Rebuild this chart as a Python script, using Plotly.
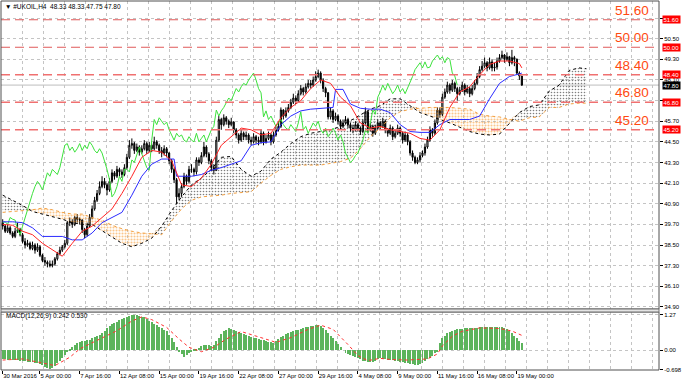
import plotly.graph_objects as go

# ---------------- data ----------------
OPEN = [39.8, 39.6, 39.3, 39.5, 39.2, 39.0, 39.3, 39.4, 39.1, 38.7,
        38.5, 38.6, 38.3, 38.5, 38.2, 38.4, 37.9, 37.6, 37.5, 37.4,
        37.3, 37.4, 37.7, 38.0, 38.2, 38.4, 38.6, 39.8, 39.85, 39.7,
        40.1, 40.0, 39.95, 39.4, 39.1, 39.6, 40.1, 40.6, 41.1, 41.5,
        41.9, 42.2, 42.0, 41.7, 42.2, 42.7, 42.5, 42.9, 42.75, 42.6,
        43.0, 43.6, 44.3, 44.4, 44.0, 44.2, 43.9, 44.1, 44.4, 44.0,
        44.3, 44.1, 44.5, 44.3, 44.0, 43.85, 44.1, 43.85, 43.4, 42.9,
        42.3, 41.3, 41.5, 41.9, 42.5, 42.2, 42.9, 42.9, 42.75, 43.45,
        43.3, 43.7, 44.2, 43.8, 43.4, 43.0, 42.85, 44.6, 45.8, 45.5,
        45.9, 45.7, 45.5, 45.65, 45.2, 44.9, 44.6, 45.0, 44.8, 44.9,
        44.6, 44.5, 44.8, 44.6, 44.5, 45.0, 44.5, 44.7, 44.9, 44.5,
        44.9, 45.2, 45.4, 46.35, 46.0, 46.3, 46.5, 46.8, 47.05, 46.9,
        47.3, 47.6, 47.4, 47.7, 47.9, 47.8, 48.1, 48.3, 48.5, 48.1,
        47.6, 47.35, 45.95, 46.3, 45.8, 46.0, 45.7, 45.4, 45.6, 45.8,
        45.5, 45.3, 45.2, 45.5, 45.3, 45.1, 45.6, 46.25, 45.2, 45.4,
        45.0, 45.3, 45.6, 45.4, 45.7, 45.2, 45.0, 45.3, 44.8, 45.0,
        45.3, 45.0, 44.6, 44.9, 44.5, 43.85, 43.6, 43.3, 43.45, 43.7,
        43.85, 44.2, 44.6, 45.2, 45.0, 45.6, 46.35, 46.1, 47.1, 47.4,
        47.8, 47.5, 47.9, 47.6, 47.3, 47.5, 47.8, 47.4, 47.6, 47.3,
        47.6, 47.9, 48.3, 48.7, 48.9, 49.1, 48.8, 49.15, 48.8, 48.85,
        49.2, 49.4, 49.55, 49.3, 49.45, 49.1, 49.4, 49.3, 48.5, 48.33]
HIGH = [40.0, 39.7, 39.7, 39.6, 39.3, 39.5, 39.8, 39.5, 39.2, 38.9,
        38.8, 38.7, 38.7, 38.6, 38.6, 38.5, 38.0, 37.8, 37.6, 37.6,
        37.6, 37.8, 38.1, 38.4, 38.5, 38.8, 39.9, 40.1, 40.0, 40.2,
        40.3, 40.1, 40.0, 39.5, 39.8, 40.3, 40.8, 41.3, 41.7, 42.2,
        42.5, 42.4, 42.1, 42.4, 42.9, 42.8, 43.1, 43.0, 42.9, 43.2,
        43.8, 44.6, 44.7, 44.5, 44.4, 44.3, 44.3, 44.6, 44.5, 44.5,
        44.4, 44.8, 44.6, 44.4, 44.2, 44.3, 44.2, 43.9, 43.5, 43.0,
        42.4, 41.8, 42.1, 42.7, 42.6, 43.1, 43.2, 43.0, 43.6, 43.6,
        43.9, 44.5, 44.3, 43.9, 43.5, 43.2, 44.8, 46.0, 45.9, 46.1,
        46.0, 45.8, 45.9, 45.7, 45.3, 45.0, 45.2, 45.1, 45.1, 45.0,
        44.8, 45.0, 44.9, 44.8, 45.2, 45.1, 44.9, 45.1, 45.0, 45.1,
        45.4, 45.7, 46.5, 46.4, 46.5, 46.7, 47.0, 47.3, 47.2, 47.5,
        47.8, 47.7, 47.9, 48.1, 48.1, 48.3, 48.6, 48.7, 48.6, 48.2,
        47.7, 47.4, 46.5, 46.4, 46.2, 46.1, 45.8, 45.8, 46.0, 45.9,
        45.6, 45.5, 45.7, 45.6, 45.4, 45.8, 46.5, 46.3, 45.6, 45.5,
        45.5, 45.8, 45.7, 45.9, 45.8, 45.3, 45.5, 45.4, 45.2, 45.5,
        45.4, 45.1, 45.1, 45.0, 44.6, 44.0, 43.7, 43.6, 43.9, 44.0,
        44.4, 44.8, 45.4, 45.3, 45.8, 46.5, 46.5, 47.3, 47.6, 48.0,
        47.9, 48.1, 48.0, 47.7, 47.7, 48.0, 47.9, 47.8, 47.7, 47.8,
        48.1, 48.5, 48.9, 49.2, 49.4, 49.2, 49.4, 49.3, 49.1, 49.4,
        49.6, 49.8, 49.6, 49.7, 49.5, 49.85, 49.5, 49.35, 48.6, 48.33]
LOW = [39.4, 39.2, 39.2, 39.1, 38.9, 38.9, 39.2, 39.0, 38.6, 38.3,
       38.4, 38.2, 38.2, 38.0, 38.1, 37.8, 37.5, 37.3, 37.2, 37.2,
       37.2, 37.3, 37.6, 37.9, 38.1, 38.3, 38.5, 39.6, 39.5, 39.6,
       39.8, 39.7, 39.2, 38.9, 39.0, 39.5, 40.0, 40.5, 41.0, 41.4,
       41.8, 41.8, 41.4, 41.6, 42.1, 42.3, 42.4, 42.5, 42.4, 42.5,
       42.9, 43.5, 44.1, 43.8, 43.9, 43.7, 43.8, 44.0, 43.8, 43.9,
       43.9, 44.0, 44.1, 43.8, 43.6, 43.7, 43.6, 43.2, 42.7, 42.1,
       40.9, 41.1, 41.3, 41.8, 42.0, 42.1, 42.7, 42.5, 42.6, 43.1,
       43.2, 43.6, 43.6, 43.2, 42.8, 42.6, 42.8, 44.5, 45.2, 45.4,
       45.5, 45.3, 45.4, 45.0, 44.7, 44.4, 44.5, 44.6, 44.6, 44.4,
       44.3, 44.4, 44.4, 44.3, 44.4, 44.3, 44.4, 44.6, 44.3, 44.4,
       44.8, 45.1, 45.3, 45.8, 45.9, 46.2, 46.4, 46.7, 46.7, 46.8,
       47.2, 47.2, 47.3, 47.6, 47.6, 47.7, 48.0, 48.2, 47.9, 47.4,
       47.1, 45.8, 45.8, 45.6, 45.7, 45.5, 45.2, 45.3, 45.5, 45.3,
       45.1, 45.0, 45.1, 45.1, 44.9, 45.0, 45.5, 45.0, 45.1, 44.8,
       44.9, 45.2, 45.2, 45.3, 45.0, 44.8, 44.9, 44.6, 44.7, 44.9,
       44.8, 44.4, 44.5, 44.3, 43.7, 43.4, 43.2, 43.2, 43.3, 43.6,
       43.7, 44.1, 44.5, 44.8, 44.9, 45.5, 45.9, 46.0, 47.0, 47.3,
       47.3, 47.4, 47.4, 46.9, 47.2, 47.4, 47.2, 47.3, 47.1, 47.2,
       47.5, 47.8, 48.2, 48.6, 48.8, 48.6, 48.7, 48.6, 48.6, 48.7,
       49.1, 49.3, 49.1, 49.2, 48.9, 49.0, 48.9, 48.4, 48.1, 47.75]
CLOSE = [39.6, 39.3, 39.5, 39.2, 39.0, 39.3, 39.4, 39.1, 38.7, 38.5,
         38.6, 38.3, 38.5, 38.2, 38.4, 37.9, 37.6, 37.5, 37.4, 37.3,
         37.4, 37.7, 38.0, 38.2, 38.4, 38.6, 39.8, 39.85, 39.7, 40.1,
         40.0, 39.95, 39.4, 39.1, 39.6, 40.1, 40.6, 41.1, 41.5, 41.9,
         42.2, 42.0, 41.7, 42.2, 42.7, 42.5, 42.9, 42.75, 42.6, 43.0,
         43.6, 44.3, 44.4, 44.0, 44.2, 43.9, 44.1, 44.4, 44.0, 44.3,
         44.1, 44.5, 44.3, 44.0, 43.85, 44.1, 43.85, 43.4, 42.9, 42.3,
         41.3, 41.5, 41.9, 42.5, 42.2, 42.9, 42.9, 42.75, 43.45, 43.3,
         43.7, 44.2, 43.8, 43.4, 43.0, 42.85, 44.6, 45.8, 45.5, 45.9,
         45.7, 45.5, 45.65, 45.2, 44.9, 44.6, 45.0, 44.8, 44.9, 44.6,
         44.5, 44.8, 44.6, 44.5, 45.0, 44.5, 44.7, 44.9, 44.5, 44.9,
         45.2, 45.4, 46.35, 46.0, 46.3, 46.5, 46.8, 47.05, 46.9, 47.3,
         47.6, 47.4, 47.7, 47.9, 47.8, 48.1, 48.3, 48.5, 48.1, 47.6,
         47.35, 45.95, 46.3, 45.8, 46.0, 45.7, 45.4, 45.6, 45.8, 45.5,
         45.3, 45.2, 45.5, 45.3, 45.1, 45.6, 46.25, 45.2, 45.4, 45.0,
         45.3, 45.6, 45.4, 45.7, 45.2, 45.0, 45.3, 44.8, 45.0, 45.3,
         45.0, 44.6, 44.9, 44.5, 43.85, 43.6, 43.3, 43.45, 43.7, 43.85,
         44.2, 44.6, 45.2, 45.0, 45.6, 46.35, 46.1, 47.1, 47.4, 47.8,
         47.5, 47.9, 47.6, 47.3, 47.5, 47.8, 47.4, 47.6, 47.3, 47.6,
         47.9, 48.3, 48.7, 48.9, 49.1, 48.8, 49.15, 48.8, 48.85, 49.2,
         49.4, 49.55, 49.3, 49.45, 49.1, 49.4, 49.3, 48.5, 48.33, 47.8]
BAR_INDEX = list(range(len(CLOSE)))

TENKAN_X = [0, 4, 8, 12, 16, 20, 24, 28, 32, 36, 40, 44, 48, 52, 56, 60, 64, 68, 72, 76,
            80, 84, 88, 92, 96, 100, 104, 108, 112, 116, 120, 124, 128, 132, 136, 140,
            144, 148, 152, 156, 160, 164, 168, 172, 176, 180, 184, 188, 192, 196, 200,
            204, 208, 209]
TENKAN = [39.7, 39.65, 39.3, 39.1, 38.6, 38.2, 37.85, 38.6, 39.3, 39.6, 40.1, 40.6, 41.5,
          42.5, 43.6, 44.0, 43.9, 43.4, 42.0, 41.9, 42.4, 43.2, 44.3, 44.8, 45.3, 45.2,
          44.9, 45.0, 45.9, 46.5, 46.9, 47.6, 48.1, 47.9, 47.1, 46.6, 45.6, 45.3, 45.4,
          45.2, 45.1, 45.0, 44.7, 44.6, 45.2, 46.5, 47.4, 47.7, 48.4, 49.0, 49.2, 49.2,
          49.05, 48.8]

KIJUN_X = [0, 4, 8, 12, 16, 20, 24, 28, 32, 36, 40, 44, 48, 52, 56, 60, 64, 69, 70, 76,
           80, 84, 88, 92, 96, 100, 104, 108, 112, 116, 120, 124, 128, 133, 134, 137,
           140, 144, 148, 152, 156, 160, 164, 168, 172, 176, 180, 184, 188, 192, 196,
           200, 204, 208, 209]
KIJUN = [39.85, 39.85, 39.8, 39.5, 39.0, 39.0, 39.0, 38.8, 38.8, 39.2, 39.8, 40.1, 40.4,
         41.4, 42.5, 43.2, 43.5, 43.5, 42.5, 42.5, 42.6, 42.85, 43.0, 43.2, 43.4, 44.3,
         44.45, 44.5, 45.5, 46.0, 46.3, 46.4, 46.45, 46.5, 47.55, 47.55, 46.7, 46.45,
         46.4, 46.4, 46.2, 45.5, 45.1, 45.05, 45.05, 45.5, 45.8, 45.8, 45.8, 46.0, 47.0,
         47.9, 48.3, 48.45, 48.5]

SPAN_X = [0, 4, 8, 12, 16, 20, 24, 28, 32, 36, 40, 44, 48, 52, 56, 60, 64, 68, 72, 76,
          80, 84, 88, 92, 96, 100, 104, 108, 112, 116, 120, 124, 128, 132, 136, 140,
          144, 148, 152, 156, 160, 164, 168, 172, 176, 180, 184, 188, 192, 196, 200,
          204, 208, 212, 216, 220, 224, 228, 232, 235]
SPAN_A = [41.4, 41.1, 40.8, 40.45, 40.3, 40.15, 40.0, 39.8, 39.7, 39.7, 39.35, 39.0, 38.6,
          38.4, 38.6, 38.9, 39.6, 40.5, 41.3, 42.0, 42.4, 42.9, 43.6, 43.65, 42.9, 42.5,
          42.8, 43.5, 43.9, 44.4, 44.8, 45.0, 45.1, 45.2, 45.4, 45.75, 46.1, 46.4, 46.6,
          47.0, 47.0, 46.6, 46.2, 46.0, 45.8, 45.6, 45.35, 45.1, 44.95, 44.9, 44.95, 45.6,
          46.2, 46.55, 46.65, 47.45, 47.8, 48.65, 48.8, 48.75]
SPAN_B = [40.4, 40.45, 40.5, 40.55, 40.65, 40.55, 40.4, 40.3, 40.3, 40.1, 39.95, 39.65,
          39.45, 39.3, 39.2, 39.15, 39.1, 39.9, 40.6, 41.1, 41.3, 41.35, 41.4, 41.5, 41.55,
          41.6, 42.1, 42.55, 42.9, 43.05, 43.15, 43.15, 43.15, 43.25, 43.35, 43.55, 44.1,
          44.8, 45.3, 45.9, 46.25, 46.4, 46.45, 46.5, 46.5, 46.5, 46.45, 46.4, 46.1, 46.0,
          45.95, 45.8, 45.7, 45.9, 45.95, 46.5, 46.5, 46.7, 46.75, 46.75]
CHIKOU_SHIFT = 26

MACD_MAIN = [-0.33, -0.34, -0.35, -0.34, -0.35, -0.36, -0.37, -0.38,
             -0.40, -0.41, -0.42, -0.43, -0.44, -0.45, -0.47, -0.50,
             -0.55, -0.60, -0.65, -0.69, -0.66, -0.58,
             -0.48, -0.38, -0.28, -0.18, -0.08,
             0.03, 0.12, 0.20, 0.26, 0.30, 0.32,
             0.34, 0.36, 0.38, 0.42, 0.46, 0.50, 0.56,
             0.62, 0.70, 0.78, 0.86, 0.93, 0.98, 1.03,
             1.08, 1.12, 1.16, 1.20, 1.24, 1.27,
             1.26, 1.25, 1.23, 1.21, 1.18, 1.12, 1.06,
             1.00, 0.95, 0.90, 0.85, 0.80, 0.74, 0.68,
             0.55, 0.42, 0.28, 0.12,
             -0.05, -0.15, -0.24, -0.18,
             -0.10, -0.04, 0.02, 0.05, 0.08,
             0.14, 0.17, 0.20, 0.18, 0.16, 0.20, 0.32,
             0.45, 0.58, 0.68, 0.74, 0.78,
             0.76, 0.72, 0.68, 0.64, 0.60, 0.57, 0.54, 0.51, 0.48, 0.45,
             0.42, 0.40, 0.38, 0.36, 0.33, 0.30, 0.28, 0.27,
             0.33, 0.40, 0.46, 0.52, 0.57, 0.61, 0.64,
             0.68, 0.71, 0.74, 0.77, 0.79, 0.82, 0.84, 0.86, 0.88, 0.90, 0.89, 0.86,
             0.80, 0.72, 0.62, 0.52, 0.42, 0.32, 0.22,
             0.10, 0.00, -0.10, -0.14, -0.18, -0.22, -0.26,
             -0.30, -0.34, -0.38, -0.41, -0.43, -0.44, -0.42, -0.38, -0.33,
             -0.30, -0.32, -0.34, -0.35, -0.36, -0.37, -0.38, -0.40,
             -0.42, -0.44, -0.46, -0.48, -0.50, -0.52, -0.53, -0.54, -0.52,
             -0.46, -0.40, -0.34, -0.27, -0.20, -0.12, -0.04,
             0.26, 0.42, 0.52, 0.60, 0.66, 0.70,
             0.73, 0.75, 0.76, 0.77, 0.78, 0.78, 0.79, 0.80,
             0.80, 0.81, 0.82, 0.83, 0.84, 0.84, 0.85, 0.85, 0.84, 0.84, 0.83, 0.82, 0.80, 0.77,
             0.70, 0.62, 0.52, 0.42, 0.33, 0.24]
SIGNAL_X = [0, 7, 8, 15, 21, 27, 31, 35, 39, 46, 52, 56, 60, 66, 71, 75, 80, 85, 90, 96,
            104, 110, 116, 123, 128, 133, 139, 143, 147, 152, 156, 163, 171, 175, 177,
            181, 185, 192, 200, 205, 209]
SIGNAL = [-0.36, -0.34, -0.32, -0.45, -0.56, -0.26, 0.04, 0.22, 0.40, 0.70, 1.05, 1.20,
          1.10, 0.82, 0.40, 0.10, -0.06, 0.10, 0.40, 0.67, 0.45, 0.28, 0.45, 0.75, 0.90,
          0.75, 0.20, -0.20, -0.38, -0.30, -0.34, -0.36, -0.32, -0.14, 0.15, 0.50, 0.68,
          0.80, 0.78, 0.69, 0.53]

LEVELS = [51.60, 50.00, 48.40, 46.80, 45.20]
LAST_PRICE = 47.80
PRICE_TICKS = [34.90, 36.10, 37.30, 38.50, 39.70, 40.90, 42.10, 43.30, 44.50, 45.70,
               46.90, 48.10, 49.30, 50.50, 51.70]
# 46.90 and 51.70 sit under the level boxes in the reference, so they show no text
PRICE_TICK_TEXT = ["34.90", "36.10", "37.30", "38.50", "39.70", "40.90", "42.10", "43.30",
                   "44.50", "45.70", "", "48.10", "49.30", "50.50", ""]
MACD_TICKS = [1.27, 0.00, -0.698]
MACD_TICK_TEXT = ["1.27", "0.00", "-0.698"]
TIME_TICK_POS = [0, 15, 31, 47, 63, 79, 95, 111, 127, 143, 159, 175, 191, 207]
TIME_TICK_TEXT = ["30 Mar 2016", "5 Apr 00:00", "7 Apr 16:00", "12 Apr 08:00",
                  "15 Apr 00:00", "19 Apr 16:00", "22 Apr 08:00", "27 Apr 00:00",
                  "29 Apr 16:00", "4 May 08:00", "9 May 00:00", "11 May 16:00",
                  "16 May 08:00", "19 May 00:00"]
TITLE_TEXT = "\u25bc #UKOIL,H4  48.33 48.33 47.75 47.80"
MACD_TEXT = "MACD(12,26,9) 0.242 0.530"

# ---------------- styling / geometry ----------------
FONT = "Liberation Sans, Arial, sans-serif"
X0_PX, BAR_PX = 2.7, 2.484          # pixel of bar 0 and pixels per bar
PLOT_L, PLOT_R = 1, 659
X_MIN = (PLOT_L - X0_PX) / BAR_PX
X_MAX = (PLOT_R - X0_PX) / BAR_PX
GRID_X = [(px - X0_PX) / BAR_PX for px in range(22, 660, 21)]
MAIN_DOM = [0.1653, 1.0]
MACD_DOM = [0.0, 0.1572]
GRID_COLOR = "#c4c4c4"
LEVEL_COLORS = ["#e05a5a", "#e05a5a", "#f07070", "#f07070", "#f07070"]
LEVEL_WIDTHS = [1, 1, 1.6, 1.6, 1.6]
LABEL_COLOR = "#ff4a10"

cloud_top = [max(a, b) for a, b in zip(SPAN_A, SPAN_B)]
dots_black = dict(shape=".", fgcolor="#000000", bgcolor="rgba(255,255,255,0)", size=3, solidity=0.22)
dots_orange = dict(shape=".", fgcolor="#f7901a", bgcolor="rgba(255,255,255,0)", size=3, solidity=0.4)

fig = go.Figure()

# cloud: black hatch where A above B
fig.add_trace(go.Scatter(x=SPAN_X, y=SPAN_B, mode="lines", line=dict(width=0),
                         hoverinfo="skip", xaxis="x", yaxis="y"))
fig.add_trace(go.Scatter(x=SPAN_X, y=cloud_top, mode="lines", line=dict(width=0),
                         fill="tonexty", fillcolor="rgba(0,0,0,0)", fillpattern=dots_black,
                         hoverinfo="skip", xaxis="x", yaxis="y"))
# cloud: orange hatch where B above A
fig.add_trace(go.Scatter(x=SPAN_X, y=SPAN_A, mode="lines", line=dict(width=0),
                         hoverinfo="skip", xaxis="x", yaxis="y"))
fig.add_trace(go.Scatter(x=SPAN_X, y=cloud_top, mode="lines", line=dict(width=0),
                         fill="tonexty", fillcolor="rgba(0,0,0,0)", fillpattern=dots_orange,
                         hoverinfo="skip", xaxis="x", yaxis="y"))
# span borders
fig.add_trace(go.Scatter(x=SPAN_X, y=SPAN_B, mode="lines",
                         line=dict(color="#f4a040", width=1, dash="dot"), xaxis="x", yaxis="y"))
fig.add_trace(go.Scatter(x=SPAN_X, y=SPAN_A, mode="lines",
                         line=dict(color="#000000", width=1, dash="dot"), xaxis="x", yaxis="y"))

# candles
fig.add_trace(go.Candlestick(
    x=BAR_INDEX, open=OPEN, high=HIGH, low=LOW, close=CLOSE,
    increasing=dict(line=dict(color="#000000", width=1), fillcolor="#ffffff"),
    decreasing=dict(line=dict(color="#000000", width=1), fillcolor="#000000"),
    whiskerwidth=0, xaxis="x", yaxis="y", hoverinfo="skip"))

# ichimoku lines
fig.add_trace(go.Scatter(x=[i - CHIKOU_SHIFT for i in BAR_INDEX[CHIKOU_SHIFT:]],
                         y=CLOSE[CHIKOU_SHIFT:], mode="lines",
                         line=dict(color="#3de23d", width=1), xaxis="x", yaxis="y"))
fig.add_trace(go.Scatter(x=KIJUN_X, y=KIJUN, mode="lines",
                         line=dict(color="#2b2bff", width=1), xaxis="x", yaxis="y"))
fig.add_trace(go.Scatter(x=TENKAN_X, y=TENKAN, mode="lines",
                         line=dict(color="#ff2525", width=1), xaxis="x", yaxis="y"))

# MACD panel
fig.add_trace(go.Bar(x=BAR_INDEX, y=MACD_MAIN, width=0.4,
                     marker=dict(color="#5cb45c", line=dict(width=0)),
                     xaxis="x", yaxis="y2", hoverinfo="skip"))
fig.add_trace(go.Scatter(x=SIGNAL_X, y=SIGNAL, mode="lines",
                         line=dict(color="#ff3030", width=1, dash="dot"),
                         xaxis="x", yaxis="y2"))

shapes = []
for lev, col, w in zip(LEVELS, LEVEL_COLORS, LEVEL_WIDTHS):
    shapes.append(dict(type="line", xref="paper", yref="y", x0=0, x1=1, y0=lev, y1=lev,
                       line=dict(color=col, width=w, dash="9px,5px"), layer="above"))
shapes.append(dict(type="line", xref="paper", yref="y", x0=0, x1=1, y0=LAST_PRICE, y1=LAST_PRICE,
                   line=dict(color="#bdbdbd", width=1), layer="below"))
# panel frames and separator
shapes.append(dict(type="rect", xref="paper", yref="paper", x0=0, x1=1, y0=MAIN_DOM[0], y1=MAIN_DOM[1],
                   line=dict(color="#505050", width=1), layer="above"))
shapes.append(dict(type="rect", xref="paper", yref="paper", x0=0, x1=1, y0=MACD_DOM[0], y1=MACD_DOM[1],
                   line=dict(color="#505050", width=1), layer="above"))
shapes.append(dict(type="rect", xref="paper", yref="paper", x0=0, x1=1, y0=MACD_DOM[1], y1=MAIN_DOM[0],
                   fillcolor="#e4e4e4", line=dict(color="#707070", width=1), layer="above"))

annotations = [
    dict(text=TITLE_TEXT, xref="paper", yref="paper", x=0.003, y=0.984, xanchor="left",
         yanchor="middle", showarrow=False, font=dict(size=6.5, color="#000000", family=FONT)),
    dict(text=MACD_TEXT, xref="paper", yref="paper", x=0.005, y=0.146, xanchor="left",
         yanchor="middle", showarrow=False, font=dict(size=6.5, color="#000000", family=FONT)),
]
for lev in LEVELS:
    annotations.append(dict(text=f"{lev:.2f}", xref="paper", yref="y", x=0.959, y=lev,
                            xanchor="center", yanchor="bottom", yshift=0, showarrow=False,
                            font=dict(size=13.5, color=LABEL_COLOR, family=FONT)))
    annotations.append(dict(text=f"{lev:.2f}", xref="paper", yref="y", x=1, y=lev,
                            xanchor="left", yanchor="middle", xshift=3, showarrow=False,
                            bgcolor="#ff0000", borderpad=0.5,
                            font=dict(size=6, color="#ffffff", family=FONT)))
annotations.append(dict(text=f"{LAST_PRICE:.2f}", xref="paper", yref="y", x=1, y=LAST_PRICE,
                        xanchor="left", yanchor="middle", xshift=3, showarrow=False,
                        bgcolor="#000000", borderpad=0.5,
                        font=dict(size=6, color="#ffffff", family=FONT)))

fig.update_layout(
    width=685, height=387,
    margin=dict(l=PLOT_L, r=685 - PLOT_R, t=1, b=17),
    paper_bgcolor="#ffffff", plot_bgcolor="#ffffff",
    showlegend=False, bargap=0, boxgap=0.35,
    font=dict(family=FONT, size=6, color="#000000"),
    xaxis=dict(domain=[0, 1], anchor="y2", range=[X_MIN, X_MAX],
               tickmode="array", tickvals=TIME_TICK_POS, ticktext=TIME_TICK_TEXT,
               ticks="outside", ticklen=3, tickcolor="#000000", tickangle=0,
               ticklabelposition="outside right",
               tickfont=dict(size=6, family=FONT, color="#000000"),
               showgrid=False, zeroline=False, showline=False,
               rangeslider=dict(visible=False),
               minor=dict(tickmode="array", tickvals=GRID_X, showgrid=True,
                          gridcolor=GRID_COLOR, griddash="dot", gridwidth=1, ticks="")),
    yaxis=dict(domain=MAIN_DOM, anchor="x", side="right", range=[34.78, 52.69],
               tickmode="array", tickvals=PRICE_TICKS, ticktext=PRICE_TICK_TEXT,
               ticks="outside", ticklen=3, tickcolor="#000000",
               tickfont=dict(size=6, family=FONT, color="#000000"),
               showgrid=True, gridcolor=GRID_COLOR, griddash="dot", gridwidth=1,
               zeroline=False, showline=False),
    yaxis2=dict(domain=MACD_DOM, anchor="x", side="right", range=[-0.72, 1.376],
                tickmode="array", tickvals=MACD_TICKS, ticktext=MACD_TICK_TEXT,
                ticks="outside", ticklen=3, tickcolor="#000000",
                tickfont=dict(size=6, family=FONT, color="#000000"),
                showgrid=True, gridcolor=GRID_COLOR, griddash="dot", gridwidth=1,
                zeroline=False, showline=False),
    shapes=shapes, annotations=annotations,
)

fig.write_html("out.html", config={"displayModeBar": False},
               post_script="document.body.style.margin='0px';document.body.style.padding='0px';")
